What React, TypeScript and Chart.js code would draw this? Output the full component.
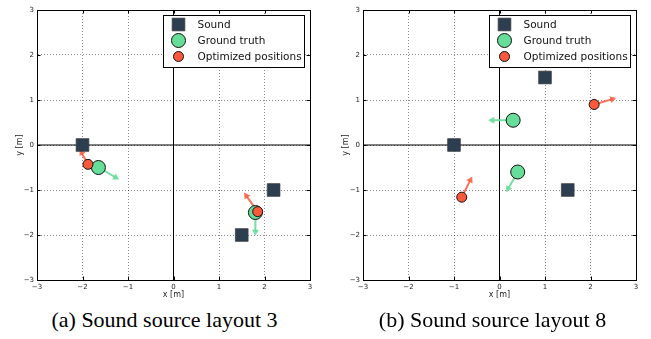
import React, { useEffect, useRef } from "react";
import { Chart, registerables } from "chart.js";
import { drawPoint } from "chart.js/helpers";
Chart.register(...registerables);

// ---------- data ----------
const TICK_VALUES = [-3, -2, -1, 0, 1, 2, 3];
const LEGEND_LABELS = ["Sound", "Ground truth", "Optimized positions"];
const CAPTIONS = ["(a) Sound source layout 3", "(b) Sound source layout 8"];

// layout 3
const soundA = [{ x: -2, y: 0 }, { x: 2.2, y: -1 }, { x: 1.5, y: -2 }];
const truthA = [{ x: -1.65, y: -0.5 }, { x: 1.8, y: -1.5 }];
const optA = [{ x: -1.88, y: -0.43 }, { x: 1.85, y: -1.48 }];
// arrows: [x0, y0, x1, y1]
const truthArrowsA = [[-1.65, -0.5, -1.27, -0.72], [1.8, -1.5, 1.8, -1.93]];
const optArrowsA = [[-1.88, -0.43, -2.02, -0.17], [1.85, -1.48, 1.6, -1.13]];

// layout 8
const soundB = [{ x: -1, y: 0 }, { x: 1, y: 1.5 }, { x: 1.5, y: -1 }];
const truthB = [{ x: 0.3, y: 0.55 }, { x: 0.4, y: -0.6 }];
const optB = [{ x: 2.08, y: 0.9 }, { x: -0.83, y: -1.16 }];
const truthArrowsB = [[0.3, 0.55, -0.16, 0.55], [0.4, -0.6, 0.19, -0.97]];
const optArrowsB = [[2.08, 0.9, 2.48, 1.02], [-0.83, -1.16, -0.64, -0.78]];

// ---------- styles ----------
const SOUND_COLOR = "#2c3e50";
const TRUTH_COLOR = "#66dd99";
const OPT_COLOR = "#fa5a3c";
const TRUTH_ARROW = "rgba(102,221,153,0.9)";
const OPT_ARROW = "rgba(250,90,60,0.85)";
const AXIS_FONT = "'DejaVu Sans', sans-serif";

function fmt(v: number) {
  return v < 0 ? "\u2212" + Math.abs(v) : String(v);
}

function arrowDataset(a: number[], color: string) {
  const [x0, y0, x1, y1] = a;
  const ang = (Math.atan2(x1 - x0, y1 - y0) * 180) / Math.PI;
  return {
    type: "scatter" as const,
    data: [{ x: x0, y: y0 }, { x: x1, y: y1 }],
    showLine: true,
    borderColor: color,
    borderWidth: 2,
    pointRadius: [0, 4],
    pointStyle: "triangle",
    rotation: [0, ang],
    pointBackgroundColor: color,
    pointBorderWidth: 0,
    order: 5,
  };
}

const framePlugin = {
  id: "frameTicks",
  afterDatasetsDraw(chart: any) {
    const { ctx, chartArea: a, scales } = chart;
    ctx.save();
    ctx.strokeStyle = "#000";
    ctx.lineWidth = 1;
    ctx.strokeRect(Math.round(a.left) + 0.5, Math.round(a.top) + 0.5, Math.round(a.right - a.left), Math.round(a.bottom - a.top));
    const L = 3.5;
    ctx.beginPath();
    for (const v of TICK_VALUES) {
      const px = Math.round(scales.x.getPixelForValue(v)) + 0.5;
      const py = Math.round(scales.y.getPixelForValue(v)) + 0.5;
      ctx.moveTo(px, a.bottom); ctx.lineTo(px, a.bottom - L);
      ctx.moveTo(px, a.top); ctx.lineTo(px, a.top + L);
      ctx.moveTo(a.left, py); ctx.lineTo(a.left + L, py);
      ctx.moveTo(a.right, py); ctx.lineTo(a.right - L, py);
    }
    ctx.stroke();
    ctx.restore();
  },
};

const boxLegendPlugin = {
  id: "boxLegend",
  afterDraw(chart: any) {
    const { ctx, chartArea: a } = chart;
    const w = 141, h = 52;
    const left = Math.round(a.right - 6 - w) + 0.5;
    const top = Math.round(a.top + 5) + 0.5;
    ctx.save();
    ctx.fillStyle = "#fff";
    ctx.fillRect(left, top, w, h);
    ctx.strokeStyle = "#000";
    ctx.lineWidth = 1;
    ctx.strokeRect(left, top, w, h);
    const metas = chart.data.datasets.filter((d: any) => d.legendRow !== undefined);
    metas.forEach((d: any) => {
      const y = top + 9 + d.legendRow * 16;
      ctx.fillStyle = d.backgroundColor;
      ctx.strokeStyle = d.borderColor;
      ctx.lineWidth = d.borderWidth;
      drawPoint(ctx, { pointStyle: d.pointStyle, radius: d.pointRadius, rotation: 0, borderWidth: d.borderWidth }, left + 15, y);
      ctx.fillStyle = "#111";
      ctx.font = `10.5px ${AXIS_FONT}`;
      ctx.textAlign = "left";
      ctx.textBaseline = "middle";
      ctx.fillText(d.label, left + 34, y + 0.5);
    });
    ctx.restore();
  },
};

function makeScale(axis: "x" | "y") {
  return {
    type: "linear" as const,
    min: -3,
    max: 3,
    afterBuildTicks: (s: any) => {
      s.ticks = TICK_VALUES.map((v) => ({ value: v }));
    },
    afterFit: (s: any) => {
      if (axis === "x") s.height = 20;
      else s.width = 22;
    },
    ticks: {
      callback: (v: any) => fmt(Number(v)),
      font: { size: 7, family: AXIS_FONT },
      color: "#222",
      padding: 3,
      maxRotation: 0,
      autoSkip: false,
    },
    grid: {
      color: "rgba(0,0,0,0.45)",
      lineWidth: 1,
      drawTicks: false,
    },
    border: { display: true, color: "#000", width: 1, dash: [1, 2] },
    title: {
      display: true,
      text: axis === "x" ? "x [m]" : "y [m]",
      font: { size: 8, family: AXIS_FONT },
      color: "#222",
      padding: { top: 0, bottom: 0 },
    },
  };
}

function buildDatasets(sound: any[], truth: any[], opt: any[], tArrows: number[][], oArrows: number[][]) {
  return [
    {
      label: LEGEND_LABELS[2], legendRow: 2, data: opt,
      backgroundColor: OPT_COLOR, borderColor: "#111", borderWidth: 1,
      pointStyle: "circle", pointRadius: 5, order: 0,
    },
    {
      label: LEGEND_LABELS[1], legendRow: 1, data: truth,
      backgroundColor: TRUTH_COLOR, borderColor: "#111", borderWidth: 1,
      pointStyle: "circle", pointRadius: 7, order: 1,
    },
    {
      label: LEGEND_LABELS[0], legendRow: 0, data: sound,
      backgroundColor: SOUND_COLOR, borderColor: "rgba(60,60,60,0.7)", borderWidth: 1,
      pointStyle: "rect", pointRadius: 9, order: 2,
    },
    ...tArrows.map((a) => arrowDataset(a, TRUTH_ARROW)),
    ...oArrows.map((a) => arrowDataset(a, OPT_ARROW)),
    {
      data: [{ x: -3, y: 0 }, { x: 3, y: 0 }], showLine: true, borderColor: "#000",
      borderWidth: 1, pointRadius: 0, order: 10,
    },
    {
      data: [{ x: 0, y: -3 }, { x: 0, y: 3 }], showLine: true, borderColor: "#000",
      borderWidth: 1, pointRadius: 0, order: 10,
    },
  ];
}

function Plot({ datasets, left }: { datasets: any[]; left: number }) {
  const ref = useRef<HTMLCanvasElement>(null);
  useEffect(() => {
    const chart = new Chart(ref.current!, {
      type: "scatter",
      data: { datasets },
      options: {
        animation: false,
        responsive: false,
        devicePixelRatio: 1,
        layout: { padding: { left: 15, right: 15, top: 7, bottom: 0 } },
        plugins: { legend: { display: false }, tooltip: { enabled: false } },
        scales: { x: makeScale("x"), y: makeScale("y") },
      } as any,
      plugins: [framePlugin, boxLegendPlugin],
    });
    return () => chart.destroy();
  }, []);
  return (
    <canvas
      ref={ref}
      width={325}
      height={300}
      style={{ position: "absolute", left, top: 0, width: 325, height: 300 }}
    />
  );
}

export default function App() {
  const capStyle: React.CSSProperties = {
    position: "absolute",
    top: 307,
    width: 325,
    textAlign: "center",
    fontFamily: "'Liberation Serif', 'Times New Roman', serif",
    fontSize: 22,
    color: "#000",
    lineHeight: "26px",
    whiteSpace: "nowrap",
  };
  return (
    <div style={{ position: "fixed", left: 0, top: 0, width: 651, height: 339, background: "#fff" }}>
      <Plot left={0} datasets={buildDatasets(soundA, truthA, optA, truthArrowsA, optArrowsA)} />
      <Plot left={326} datasets={buildDatasets(soundB, truthB, optB, truthArrowsB, optArrowsB)} />
      <div style={{ ...capStyle, left: 2 }}>{CAPTIONS[0]}</div>
      <div style={{ ...capStyle, left: 330 }}>{CAPTIONS[1]}</div>
    </div>
  );
}
